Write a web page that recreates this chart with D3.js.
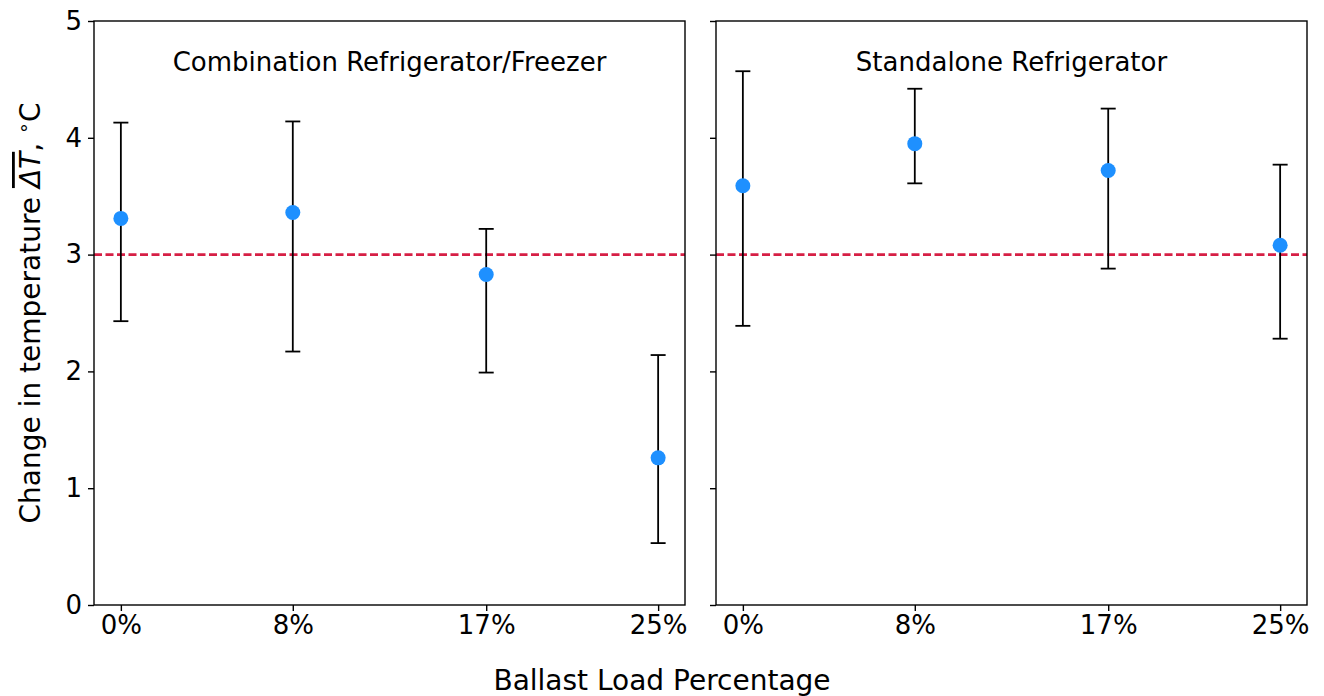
<!DOCTYPE html>
<html>
<head>
<meta charset="utf-8">
<script src="https://cdn.jsdelivr.net/npm/d3@7"></script>
<style>
	body { margin: 0; background: #fff; }
	svg text { font-family: "DejaVu Sans", sans-serif; fill: #000; }
</style>
</head>
<body>
<div id="chart"></div>
<script>
// ballast load percentages (x positions) and their tick labels
var loads = [0, 8, 17, 25];
var loadLabels = ["0%", "8%", "17%", "25%"];
var yTicks = [0, 1, 2, 3, 4, 5];

var panelTitles = ["Combination Refrigerator/Freezer", "Standalone Refrigerator"];

// mean change in temperature and error bar ends, per panel
var comboMean = [3.31, 3.36, 2.83, 1.26];
var comboLow  = [2.43, 2.17, 1.99, 0.53];
var comboHigh = [4.13, 4.14, 3.22, 2.14];

var standMean = [3.59, 3.95, 3.72, 3.08];
var standLow  = [2.39, 3.61, 2.88, 2.28];
var standHigh = [4.57, 4.42, 4.25, 3.77];

var targetDelta = 3;

var width = 1324, height = 696;
var plotTop = 21, plotBottom = 605;
var panels = [
	{left: 94, right: 685, title: panelTitles[0], mean: comboMean, low: comboLow, high: comboHigh, yLabels: true},
	{left: 716, right: 1307, title: panelTitles[1], mean: standMean, low: standLow, high: standHigh, yLabels: false}
];

var svg = d3.select("#chart").append("svg")
	.attr("width", width)
	.attr("height", height);

var y = d3.scaleLinear().domain([0, 5]).range([plotBottom, plotTop]);

panels.forEach(function(p) {
	var x = d3.scaleLinear().domain([-1.25, 26.25]).range([p.left, p.right]);
	var g = svg.append("g");

	// reference line at 3 degrees
	g.append("line")
		.attr("x1", p.left).attr("x2", p.right)
		.attr("y1", y(targetDelta)).attr("y2", y(targetDelta))
		.attr("stroke", "#d61f45")
		.attr("stroke-width", 2.6)
		.attr("stroke-dasharray", "8,3.5");

	var pts = loads.map(function(l, i) {
		return {x: l, mean: p.mean[i], low: p.low[i], high: p.high[i]};
	});

	var bars = g.selectAll("g.err").data(pts).enter().append("g").attr("class", "err");
	bars.append("line")
		.attr("x1", function(d) { return x(d.x); })
		.attr("x2", function(d) { return x(d.x); })
		.attr("y1", function(d) { return y(d.low); })
		.attr("y2", function(d) { return y(d.high); })
		.attr("stroke", "#000").attr("stroke-width", 1.8);
	["low", "high"].forEach(function(k) {
		bars.append("line")
			.attr("x1", function(d) { return x(d.x) - 7.5; })
			.attr("x2", function(d) { return x(d.x) + 7.5; })
			.attr("y1", function(d) { return y(d[k]); })
			.attr("y2", function(d) { return y(d[k]); })
			.attr("stroke", "#000").attr("stroke-width", 1.8);
	});

	g.selectAll("circle").data(pts).enter().append("circle")
		.attr("cx", function(d) { return x(d.x); })
		.attr("cy", function(d) { return y(d.mean); })
		.attr("r", 7.5)
		.attr("fill", "#1e90ff");

	// axes
	var xAxis = d3.axisBottom(x).tickValues(loads)
		.tickFormat(function(d, i) { return loadLabels[i]; })
		.tickSize(6).tickPadding(5);
	var gx = g.append("g").attr("transform", "translate(0," + plotBottom + ")").call(xAxis);
	gx.select(".domain").remove();

	var yAxis = d3.axisLeft(y).tickValues(yTicks).tickSize(6).tickPadding(6)
		.tickFormat(p.yLabels ? d3.format("d") : function() { return ""; });
	var gy = g.append("g").attr("transform", "translate(" + p.left + ",0)").call(yAxis);
	gy.select(".domain").remove();

	[gx, gy].forEach(function(a) {
		a.attr("font-size", null).attr("font-family", null);
		a.selectAll(".tick line").attr("stroke", "#000").attr("stroke-width", 1.4);
		a.selectAll(".tick text").style("font-size", "26px").attr("fill", "#000");
	});

	g.append("rect")
		.attr("x", p.left).attr("y", plotTop)
		.attr("width", p.right - p.left).attr("height", plotBottom - plotTop)
		.attr("fill", "none").attr("stroke", "#000").attr("stroke-width", 1.4);

	g.append("text")
		.attr("x", (p.left + p.right) / 2)
		.attr("y", 71)
		.attr("text-anchor", "middle")
		.style("font-size", "26px")
		.text(p.title);
});

// x axis label
svg.append("text")
	.attr("x", 662).attr("y", 690)
	.attr("text-anchor", "middle")
	.style("font-size", "28px")
	.text("Ballast Load Percentage");

// y axis label with overlined delta T
var yl = svg.append("text")
	.attr("transform", "translate(40,313) rotate(-90)")
	.attr("text-anchor", "middle")
	.style("font-size", "28px");
yl.append("tspan").text("Change in temperature ");
yl.append("tspan").style("text-decoration", "overline").style("font-style", "italic").text("ΔT");
yl.append("tspan").text(", ");
yl.append("tspan").attr("dy", -10).style("font-size", "19px").text("∘");
yl.append("tspan").attr("dy", 10).text("C");
</script>
</body>
</html>
